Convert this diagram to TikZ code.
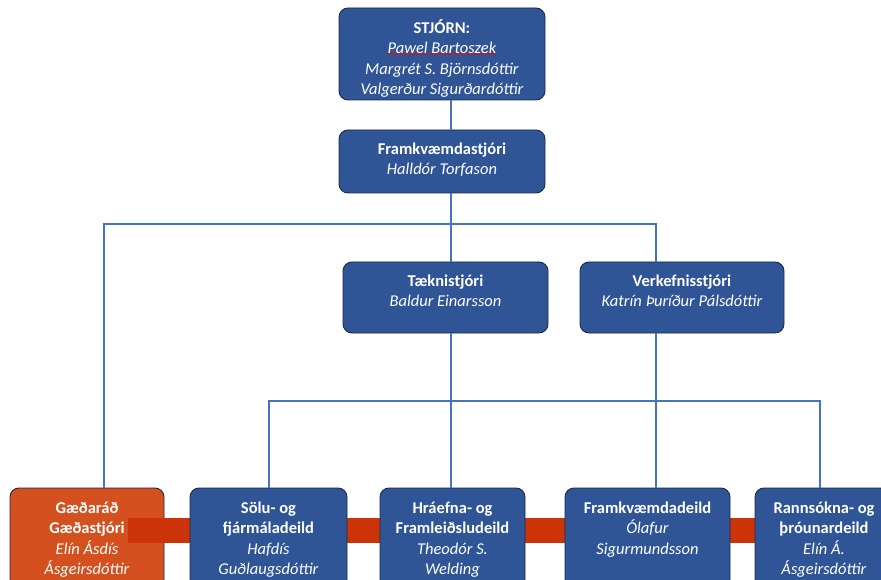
\documentclass[tikz,border=0pt]{standalone}
\usepackage{fontspec}
\setmainfont{Carlito}
\usetikzlibrary{decorations.pathmorphing}
\definecolor{boxblue}{HTML}{2F5597}
\definecolor{boxedge}{HTML}{1C2B48}
\definecolor{lineblue}{HTML}{4472C4}
\definecolor{qbox}{HTML}{D4511F}
\definecolor{qbar}{HTML}{CC3308}
\tikzset{
  orgbox/.style={rectangle, rounded corners=9pt, fill=boxblue, draw=boxedge, line width=0.9pt, inner sep=0pt},
  redbox/.style={orgbox, fill=qbox, draw=boxedge},
  txt/.style={anchor=north, inner sep=0pt, align=center, text=white, font=\fontsize{16.5}{20.5}\selectfont},
  link/.style={draw=lineblue, line width=1.8pt},
}
\newcommand\fl{\rule{0pt}{13pt}}
\begin{document}
\begin{tikzpicture}[x=1pt,y=-1pt]
\useasboundingbox (0,0) rectangle (881,580);
\clip (0,0) rectangle (881,580);
\fill[white] (0,0) rectangle (881,580);
% line x positions
\coordinate (j1) at (451,224);
\coordinate (j2) at (451,401);
\coordinate (xq) at (104,0);
\coordinate (xv) at (656,0);
\coordinate (xs) at (269,0);
\coordinate (xr) at (820,0);
% boxes
\node[orgbox, minimum width=206pt, minimum height=92pt] (stj) at (442,54) {};
\node[orgbox, minimum width=206pt, minimum height=63pt] (fk) at (442,161.5) {};
\node[orgbox, minimum width=205pt, minimum height=71pt] (tk) at (445.5,297.5) {};
\node[orgbox, minimum width=204pt, minimum height=71pt] (vk) at (682,297.5) {};
\node[redbox, minimum width=154pt, minimum height=102pt] (gq) at (87,539) {};
\fill[qbar] (128,518) rectangle (760,543);
\node[orgbox, minimum width=157pt, minimum height=102pt] (sol) at (268.5,539) {};
\node[orgbox, minimum width=145pt, minimum height=102pt] (hra) at (452.5,539) {};
\node[orgbox, minimum width=165pt, minimum height=102pt] (fkd) at (647.5,539) {};
\node[orgbox, minimum width=134pt, minimum height=102pt] (ran) at (822,539) {};
% connectors
\draw[link] (stj.south -| j1) -- (fk.north -| j1);
\draw[link] (fk.south -| j1) -- (tk.north -| j1);
\draw[link] (gq.north -| xq) |- (j1) -| (vk.north -| xv);
\draw[link] (tk.south -| j1) -- (hra.north -| j1);
\draw[link] (vk.south -| xv) -- (fkd.north -| xv);
\draw[link] (sol.north -| xs) |- (j2) -| (ran.north -| xr);
% texts
\node[txt] (stjt) at (442,19) {\fl\textbf{STJÓRN:}\\\textit{Pawel Bartoszek}\\\textit{Margrét S. Björnsdóttir}\\\textit{Valgerður Sigurðardóttir}};
\draw[red, line width=0.5pt, decorate, decoration={snake, amplitude=0.8pt, segment length=3pt}] (387,54) -- (496,54);
\node[txt] (fkt) at (442,141) {\fl\textbf{Framkvæmdastjóri}\\\textit{Halldór Torfason}};
\node[txt] (tkt) at (445.5,273) {\fl\textbf{Tæknistjóri}\\\textit{Baldur Einarsson}};
\node[txt] (vkt) at (682,273) {\fl\textbf{Verkefnisstjóri}\\\textit{Katrín Þuríður Pálsdóttir}};
\node[txt] (gqt) at (87,500) {\fl\textbf{Gæðaráð}\\\textbf{Gæðastjóri}\\\textit{Elín Ásdís}\\\textit{Ásgeirsdóttir}};
\node[txt] (solt) at (268.5,500) {\fl\textbf{Sölu- og}\\\textbf{fjármáladeild}\\\textit{Hafdís}\\\textit{Guðlaugsdóttir}};
\node[txt] (hrat) at (452.5,500) {\fl\textbf{Hráefna- og}\\\textbf{Framleiðsludeild}\\\textit{Theodór S.}\\\textit{Welding}};
\node[txt] (fkdt) at (647.5,500) {\fl\textbf{Framkvæmdadeild}\\\textit{Ólafur}\\\textit{Sigurmundsson}};
\node[txt] (rant) at (824,500) {\fl\textbf{Rannsókna- og}\\\textbf{þróunardeild}\\\textit{Elín Á.}\\\textit{Ásgeirsdóttir}};
\end{tikzpicture}
\end{document}
